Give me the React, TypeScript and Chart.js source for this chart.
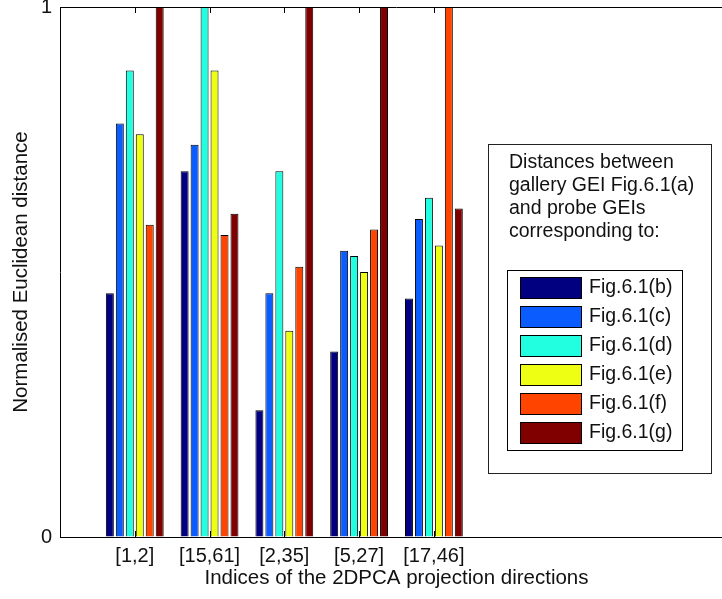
import { useEffect, useRef } from 'react';
import { Chart, registerables } from 'chart.js';

Chart.register(...registerables);

// Projection-direction index pairs on the x axis
const categories = ['[1,2]', '[15,61]', '[2,35]', '[5,27]', '[17,46]'];

// Normalised distances for each probe GEI
const seriesNames = ['Fig.6.1(b)', 'Fig.6.1(c)', 'Fig.6.1(d)', 'Fig.6.1(e)', 'Fig.6.1(f)', 'Fig.6.1(g)'];
const figB = [0.46, 0.69, 0.239, 0.35, 0.45];
const figC = [0.78, 0.74, 0.46, 0.54, 0.6];
const figD = [0.88, 1.0, 0.69, 0.53, 0.64];
const figE = [0.76, 0.88, 0.389, 0.5, 0.55];
const figF = [0.589, 0.57, 0.51, 0.58, 1.0];
const figG = [1.0, 0.61, 1.0, 1.0, 0.62];
const seriesValues = [figB, figC, figD, figE, figF, figG];
const seriesColors = ['#000080', '#0A5CFF', '#22FFE0', '#EEFF14', '#FF4400', '#800000'];

const yTickValues = [0, 1];
const xRange = [0, 9];

const legendTitle = ['Distances between', 'gallery GEI Fig.6.1(a)', 'and probe GEIs', 'corresponding to:'];

const FONT_FAMILY = '"Liberation Sans", Arial, Helvetica, sans-serif';
const TEXT_COLOR = '#111';
const CANVAS_W = 745;
const CANVAS_H = 599;

// Axes box top edge plus MATLAB-style inward tick marks
const framePlugin = {
  id: 'frame',
  beforeDatasetsDraw(chart: any) {
    const { ctx, chartArea: a, scales } = chart;
    ctx.save();
    ctx.strokeStyle = '#000';
    ctx.lineWidth = 1;
    ctx.beginPath();
    const top = Math.round(a.top) + 0.5;
    ctx.moveTo(a.left, top);
    ctx.lineTo(a.right, top);
    categories.forEach((_, i) => {
      const x = Math.round(scales.x.getPixelForValue(i + 1)) + 0.5;
      ctx.moveTo(x, a.top);
      ctx.lineTo(x, a.top + 6);
      ctx.moveTo(x, a.bottom);
      ctx.lineTo(x, a.bottom - 6);
    });
    ctx.stroke();
    ctx.restore();
  },
  afterDraw(chart: any) {
    const { ctx } = chart;
    ctx.save();
    // outer annotation box
    ctx.fillStyle = '#fff';
    ctx.strokeStyle = '#222';
    ctx.lineWidth = 1;
    ctx.fillRect(488.5, 144.5, 223, 329);
    ctx.strokeRect(488.5, 144.5, 223, 329);

    ctx.fillStyle = TEXT_COLOR;
    ctx.font = `19.5px ${FONT_FAMILY}`;
    ctx.textAlign = 'left';
    ctx.textBaseline = 'alphabetic';
    legendTitle.forEach((line, i) => {
      ctx.fillText(line, 509, 168 + i * 23);
    });

    // inner legend box
    ctx.strokeStyle = '#000';
    ctx.strokeRect(507.5, 270.5, 175, 180);

    ctx.textBaseline = 'middle';
    chart.data.datasets.forEach((ds: any, i: number) => {
      const y = 277 + i * 29;
      ctx.fillStyle = ds.backgroundColor;
      ctx.fillRect(520, y, 62, 22);
      ctx.strokeStyle = '#000';
      ctx.strokeRect(520.5, y + 0.5, 61, 21);
      ctx.fillStyle = TEXT_COLOR;
      ctx.fillText(ds.label, 589, y + 11);
    });
    ctx.restore();
  },
};

export default function App() {
  const canvasRef = useRef<HTMLCanvasElement | null>(null);

  useEffect(() => {
    const canvas = canvasRef.current;
    if (!canvas) return;
    const font = { family: FONT_FAMILY, size: 20 };
    const titleFont = { family: FONT_FAMILY, size: 20.5 };

    const chart = new Chart(canvas, {
      type: 'bar',
      data: {
        datasets: seriesValues.map((vals, s) => ({
          label: seriesNames[s],
          data: vals.map((v, i) => ({ x: i + 1, y: v })),
          backgroundColor: seriesColors[s],
          borderColor: '#000',
          borderWidth: 1,
          barPercentage: 0.8,
          categoryPercentage: 0.8,
        })),
      },
      options: {
        responsive: false,
        animation: false,
        layout: { padding: { top: 7, right: CANVAS_W - 733, bottom: 0, left: 0 } },
        plugins: { legend: { display: false }, tooltip: { enabled: false } },
        scales: {
          x: {
            type: 'linear',
            min: xRange[0],
            max: xRange[1],
            offset: false,
            afterBuildTicks: (s: any) => {
              s.ticks = categories.map((_, i) => ({ value: i + 1 }));
            },
            afterFit: (s: any) => {
              s.height = 62;
              s.paddingLeft = 0;
              s.paddingRight = 0;
            },
            ticks: {
              autoSkip: false,
              maxRotation: 0,
              padding: 7,
              color: TEXT_COLOR,
              font,
              callback: (v: any) => categories[Math.round(Number(v)) - 1] ?? '',
            },
            grid: { display: true, offset: false, drawOnChartArea: false, drawTicks: false, color: '#000' },
            border: { display: true, color: '#000', width: 1 },
            title: {
              display: true,
              text: 'Indices of the 2DPCA projection directions',
              color: TEXT_COLOR,
              font: titleFont,
              padding: { top: 0, bottom: 8 },
            },
          },
          y: {
            type: 'linear',
            min: 0,
            max: 1,
            afterBuildTicks: (s: any) => {
              s.ticks = yTickValues.map((value) => ({ value }));
            },
            afterFit: (s: any) => {
              s.width = 60;
              s.paddingTop = 0;
              s.paddingBottom = 0;
            },
            ticks: {
              padding: 8,
              color: TEXT_COLOR,
              font,
              callback: (v: any) => String(v),
            },
            grid: { display: true, drawOnChartArea: false, drawTicks: false, color: '#000' },
            border: { display: true, color: '#000', width: 1 },
            title: {
              display: true,
              text: 'Normalised Euclidean distance',
              color: TEXT_COLOR,
              font: titleFont,
              padding: { top: 9, bottom: 0 },
            },
          },
        },
      },
      plugins: [framePlugin],
    } as any);

    return () => chart.destroy();
  }, []);

  return (
    <div
      style={{
        position: 'fixed',
        left: 0,
        top: 0,
        width: 722,
        height: 599,
        overflow: 'hidden',
        background: '#fff',
      }}
    >
      <canvas ref={canvasRef} width={CANVAS_W} height={CANVAS_H} style={{ display: 'block' }} />
    </div>
  );
}
